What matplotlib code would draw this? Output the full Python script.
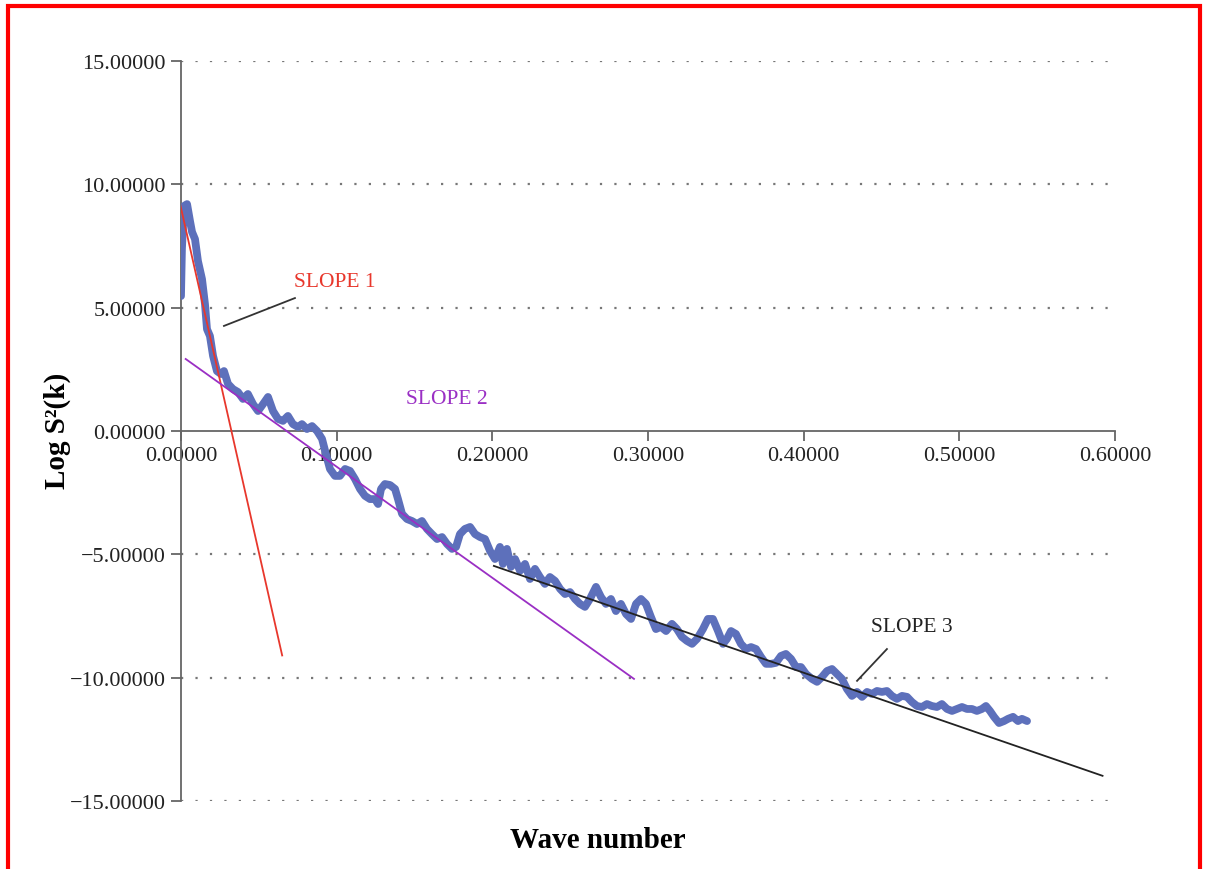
import matplotlib.pyplot as plt
from matplotlib.patches import Rectangle

plt.rcParams['font.family'] = ['Liberation Serif', 'DejaVu Serif']

# measured spectrum (wave number, log S^2)
wave = [0.0000, 0.0006, 0.0019, 0.0039, 0.0058, 0.0071, 0.0090, 0.0109, 0.0135, 0.0154,
        0.0167, 0.0186, 0.0206, 0.0231, 0.0257, 0.0276, 0.0302, 0.0334, 0.0366, 0.0398,
        0.0430, 0.0463, 0.0495, 0.0527, 0.0559, 0.0591, 0.0623, 0.0655, 0.0687, 0.0719,
        0.0752, 0.0777, 0.0809, 0.0842, 0.0874, 0.0906, 0.0931, 0.0957, 0.0989, 0.1021,
        0.1054, 0.1086, 0.1118, 0.1150, 0.1182, 0.1214, 0.1246, 0.1266, 0.1285, 0.1310,
        0.1343, 0.1375, 0.1394, 0.1420, 0.1452, 0.1484, 0.1516, 0.1548, 0.1580, 0.1612,
        0.1645, 0.1677, 0.1709, 0.1741, 0.1767, 0.1792, 0.1824, 0.1857, 0.1889, 0.1921,
        0.1953, 0.1985, 0.2017, 0.2049, 0.2068, 0.2094, 0.2120, 0.2146, 0.2178, 0.2210,
        0.2242, 0.2274, 0.2306, 0.2338, 0.2370, 0.2403, 0.2435, 0.2467, 0.2499, 0.2531,
        0.2563, 0.2595, 0.2627, 0.2666, 0.2698, 0.2730, 0.2762, 0.2794, 0.2826, 0.2859,
        0.2891, 0.2923, 0.2955, 0.2987, 0.3019, 0.3051, 0.3083, 0.3116, 0.3154, 0.3186,
        0.3218, 0.3250, 0.3283, 0.3315, 0.3353, 0.3385, 0.3417, 0.3450, 0.3482, 0.3507,
        0.3533, 0.3565, 0.3597, 0.3629, 0.3662, 0.3694, 0.3726, 0.3758, 0.3790, 0.3822,
        0.3854, 0.3886, 0.3919, 0.3951, 0.3983, 0.4015, 0.4053, 0.4086, 0.4118, 0.4150,
        0.4182, 0.4214, 0.4246, 0.4278, 0.4310, 0.4343, 0.4375, 0.4407, 0.4439, 0.4471,
        0.4503, 0.4535, 0.4567, 0.4599, 0.4632, 0.4664, 0.4696, 0.4728, 0.4760, 0.4792,
        0.4824, 0.4856, 0.4888, 0.4921, 0.4953, 0.4985, 0.5017, 0.5049, 0.5081, 0.5113,
        0.5145, 0.5171, 0.5197, 0.5223, 0.5255, 0.5287, 0.5313, 0.5345, 0.5377, 0.5402,
        0.5435]
logs = [5.47, 7.38, 9.12, 9.20, 8.51, 8.07, 7.78, 6.89, 6.16, 5.15,
        4.13, 3.85, 3.04, 2.43, 2.31, 2.43, 1.91, 1.70, 1.58, 1.30,
        1.50, 1.09, 0.81, 1.09, 1.38, 0.81, 0.49, 0.41, 0.61, 0.28,
        0.16, 0.28, 0.08, 0.20, 0.00, -0.32, -0.93, -1.54, -1.82, -1.82,
        -1.54, -1.62, -1.95, -2.35, -2.63, -2.76, -2.76, -2.96, -2.35, -2.15,
        -2.19, -2.35, -2.76, -3.36, -3.57, -3.65, -3.77, -3.65, -3.97, -4.18,
        -4.38, -4.30, -4.58, -4.78, -4.70, -4.18, -3.97, -3.89, -4.18, -4.30,
        -4.38, -4.86, -5.19, -4.70, -5.39, -4.78, -5.51, -5.19, -5.67, -5.39,
        -6.00, -5.59, -5.92, -6.20, -5.92, -6.08, -6.40, -6.61, -6.53, -6.81,
        -7.01, -7.13, -6.81, -6.32, -6.73, -7.01, -6.81, -7.30, -7.01, -7.42,
        -7.62, -7.01, -6.81, -7.01, -7.54, -8.03, -7.94, -8.11, -7.82, -8.03,
        -8.35, -8.51, -8.63, -8.43, -8.03, -7.62, -7.62, -8.11, -8.63, -8.43,
        -8.11, -8.23, -8.63, -8.84, -8.76, -8.84, -9.16, -9.44, -9.44, -9.40,
        -9.12, -9.04, -9.24, -9.57, -9.57, -9.85, -10.05, -10.17, -9.97, -9.73,
        -9.65, -9.85, -10.05, -10.46, -10.74, -10.58, -10.78, -10.58, -10.66, -10.54,
        -10.58, -10.54, -10.74, -10.86, -10.74, -10.78, -10.99, -11.15, -11.19, -11.07,
        -11.15, -11.19, -11.07, -11.27, -11.35, -11.27, -11.19, -11.27, -11.27, -11.35,
        -11.27, -11.15, -11.35, -11.59, -11.84, -11.76, -11.67, -11.59, -11.76, -11.67,
        -11.76]

# fitted slope segments (start, end)
slope1_x = [-0.002, 0.065]
slope1_y = [9.6, -9.1]
slope2_x = [0.003, 0.291]
slope2_y = [2.92, -10.05]
slope3_x = [0.201, 0.592]
slope3_y = [-5.47, -13.98]

xticks = [0.0, 0.1, 0.2, 0.3, 0.4, 0.5, 0.6]
yticks = [15, 10, 5, 0, -5, -10, -15]

fig = plt.figure(figsize=(12.05, 8.7), dpi=100)
ax = fig.add_axes([0.1502, 0.0782, 0.7751, 0.8505])

for v in [15, 10, 5, -5, -10, -15]:
    ax.plot([0, 0.6], [v, v], color='#777777', lw=1.6, ls=(0, (1, 5.5)), zorder=1)

ax.plot(wave, logs, color='#5d70bb', lw=5.6, solid_joinstyle='round',
        solid_capstyle='round', zorder=3)
ax.plot(slope1_x, slope1_y, color='#e8372c', lw=1.3, zorder=4)
ax.plot(slope2_x, slope2_y, color='#9a2fc4', lw=1.3, zorder=4)
ax.plot(slope3_x, slope3_y, color='#222222', lw=1.3, zorder=4)

# labels and leaders
ax.plot([0.0276, 0.0732], [4.26, 5.39], color='#333333', lw=1.3)
ax.text(0.0989, 6.08, 'SLOPE 1', color='#e8372c', fontsize=15.5, ha='center', va='center')
ax.text(0.1709, 1.30, 'SLOPE 2', color='#9a2fc4', fontsize=15.5, ha='center', va='center')
ax.plot([0.4343, 0.4535], [-10.13, -8.84], color='#333333', lw=1.3)
ax.text(0.4696, -7.94, 'SLOPE 3', color='#222222', fontsize=15.5, ha='center', va='center')

ax.set_xlim(0, 0.6)
ax.set_ylim(-15, 15)
ax.set_xticks(xticks)
ax.set_yticks(yticks)
ax.set_xticklabels([f'{v:.5f}' for v in xticks])
ax.set_yticklabels([f'{v:.5f}'.replace('-', '\u2212') for v in yticks])

for s in ['top', 'right']:
    ax.spines[s].set_visible(False)
ax.spines['bottom'].set_position(('data', 0))
for s in ['left', 'bottom']:
    ax.spines[s].set_color('#666666')
    ax.spines[s].set_linewidth(1.3)
ax.tick_params(axis='both', colors='#666666', labelcolor='#222222', labelsize=16,
               length=7, width=1.3, direction='out', pad=4)

fig.text(0.0473, 0.505, 'Log S\u00b2(k)', rotation=90, fontsize=21,
         fontweight='bold', ha='center', va='center')
fig.text(0.496, 0.034, 'Wave number', fontsize=21, fontweight='bold',
         ha='center', va='center')

# red frame around the figure (bottom edge outside the image)
fig.add_artist(Rectangle((8 / 1205, -0.05), (1199.7 - 8) / 1205, 1.05 - 7 / 870,
                         transform=fig.transFigure, fill=False, edgecolor='#ff0000',
                         lw=3, clip_on=False))

fig.savefig('out.png', dpi=100)
